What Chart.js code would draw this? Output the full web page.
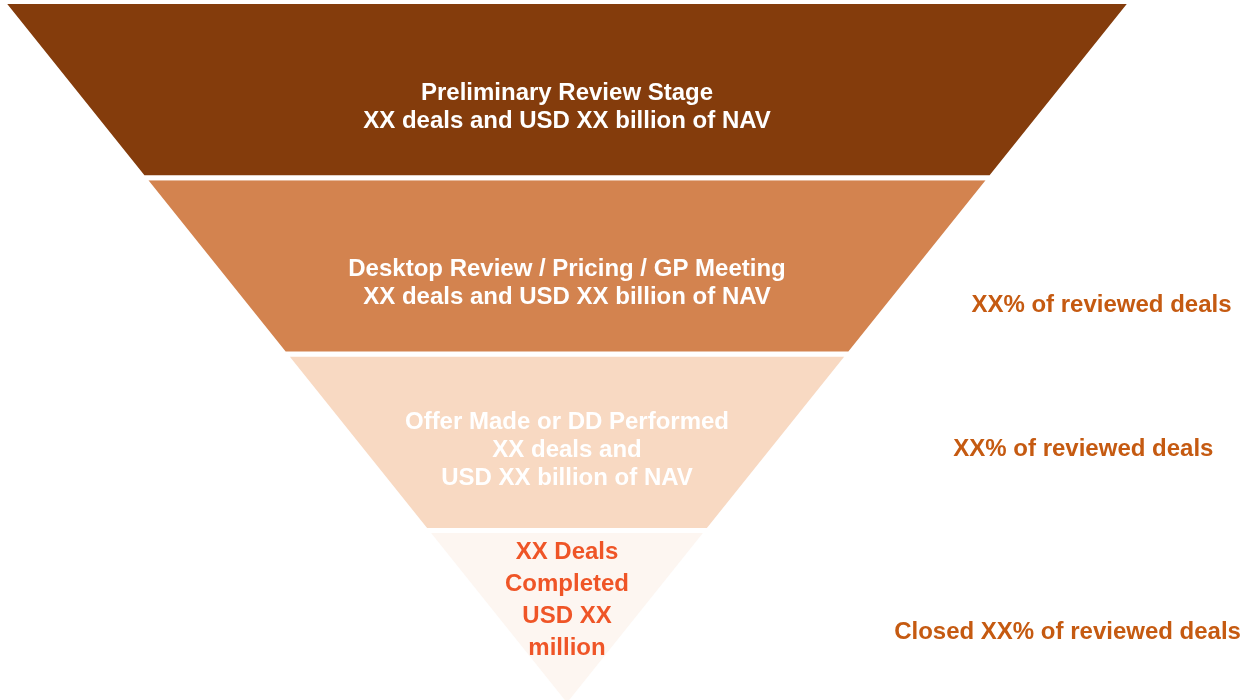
<!DOCTYPE html>
<html>
<head>
<meta charset="utf-8">
<script src="https://cdn.jsdelivr.net/npm/chart.js@4/dist/chart.umd.min.js"></script>
<style>
  html, body { margin: 0; padding: 0; background: #ffffff; }
  #wrap { position: relative; width: 1254px; height: 700px; }
</style>
</head>
<body>
<div id="wrap"><canvas id="funnel"></canvas></div>
<script>
// Funnel stages, top to bottom
const stageLabels = [
    ['Preliminary Review Stage', 'XX deals and USD XX billion of NAV'],
    ['Desktop Review / Pricing / GP Meeting', 'XX deals and USD XX billion of NAV'],
    ['Offer Made or DD Performed', 'XX deals and', 'USD XX billion of NAV'],
    ['XX Deals', 'Completed', 'USD XX', 'million']
];
// width of the funnel at each stage boundary (% of the top width)
const boundaryWidths = [100, 75, 50, 25, 0];
// conversion notes for stages 2..4
const conversionLabels = [
    'XX% of reviewed deals',
    'XX% of reviewed deals',
    'Closed XX% of reviewed deals'
];

// styles
const bandColors = ['#843C0C', '#D3834F', '#F8D9C2', '#FDF6F1'];
const textColors = ['#ffffff', '#ffffff', '#ffffff', '#EF5527'];
const textOffsets = [0.60, 0.60, 0.545, 0.395];   // where the label block sits inside its band
const textFont = 'bold 24px "Liberation Sans"';
const lineGaps = [28, 28, 28, 32];
const notePos = [[47.3, 1.726], [45.7, 2.542], [44.3, 3.58]];

// build one closed trapezoid per stage
const datasets = stageLabels.map((lines, i) => {
    const wTop = boundaryWidths[i] / 2;
    const wBot = boundaryWidths[i + 1] / 2;
    return {
        data: [
            { x: -wTop, y: i },
            { x: wTop, y: i },
            { x: wBot, y: i + 1 },
            { x: -wBot, y: i + 1 },
            { x: -wTop, y: i }
        ],
        showLine: true,
        fill: 'shape',
        backgroundColor: bandColors[i],
        borderColor: '#ffffff',
        borderWidth: 5,
        borderJoinStyle: 'miter',
        pointRadius: 0,
        tension: 0
    };
});

// text drawn on top of the funnel
const labelPlugin = {
    id: 'funnelLabels',
    afterDatasetsDraw(chart) {
        const ctx = chart.ctx;
        const xs = chart.scales.x;
        const ys = chart.scales.y;
        ctx.save();
        ctx.textAlign = 'center';
        ctx.textBaseline = 'middle';
        ctx.font = textFont;
        stageLabels.forEach((lines, i) => {
            ctx.fillStyle = textColors[i];
            const cx = xs.getPixelForValue(0);
            const cy = ys.getPixelForValue(i + textOffsets[i]);
            const start = cy - (lines.length - 1) * lineGaps[i] / 2;
            lines.forEach((t, k) => ctx.fillText(t, cx, start + k * lineGaps[i]));
        });
        ctx.fillStyle = '#C55A11';
        conversionLabels.forEach((t, i) => {
            ctx.fillText(t, xs.getPixelForValue(notePos[i][0]), ys.getPixelForValue(notePos[i][1]));
        });
        ctx.restore();
    }
};

new Chart(document.getElementById('funnel'), {
    type: 'scatter',
    data: { datasets: datasets },
    options: {
        responsive: true,
        maintainAspectRatio: false,
        animation: false,
        layout: { padding: 0 },
        plugins: {
            legend: { display: false },
            tooltip: { enabled: false }
        },
        scales: {
            x: { type: 'linear', min: -50.18, max: 60.8, display: false },
            y: { type: 'linear', min: -0.0085, max: 3.962, reverse: true, display: false }
        }
    },
    plugins: [labelPlugin]
});
</script>
</body>
</html>
